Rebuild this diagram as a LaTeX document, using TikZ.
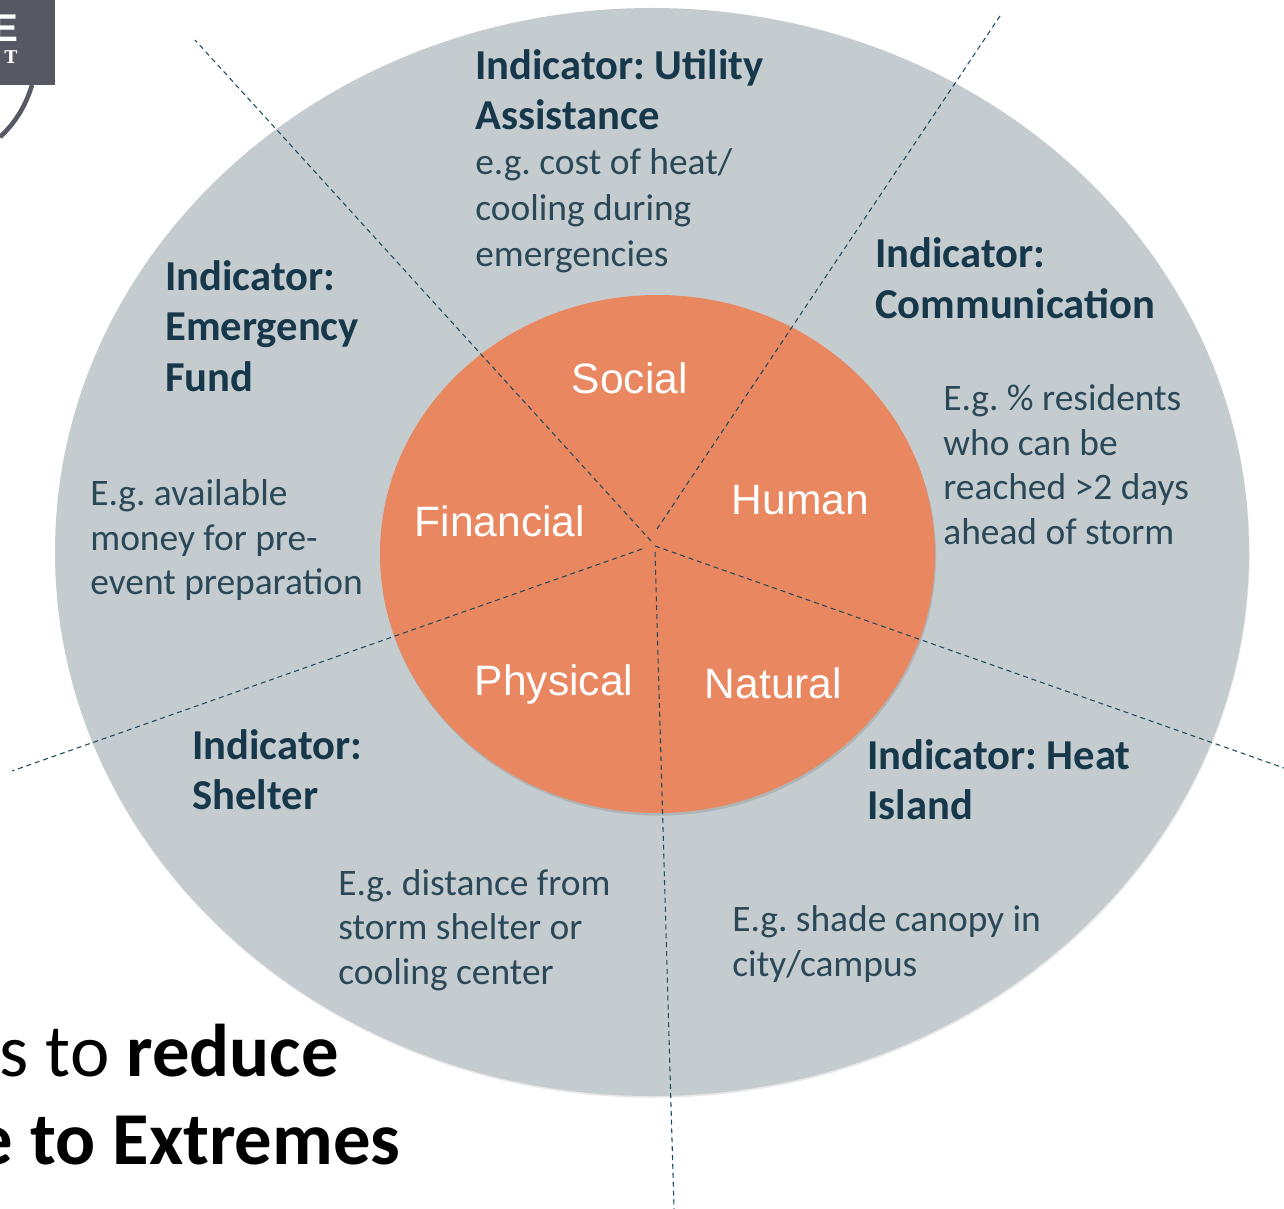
\documentclass[tikz,border=0pt]{standalone}
\usepackage{fontspec}
\setmainfont{Carlito}
\newfontfamily\labelfont{Liberation Sans}
\newfontfamily\logofont{DejaVu Serif}
\usetikzlibrary{shadows}
\definecolor{outergray}{HTML}{C4CCCF}
\definecolor{innerorange}{HTML}{E98760}
\definecolor{spokeblue}{HTML}{1F4A5E}
\definecolor{headblue}{HTML}{17384B}
\definecolor{bodyblue}{HTML}{2A4858}
\definecolor{logogray}{HTML}{565964}
\tikzset{
  indicator/.style={anchor=base west,inner sep=0pt,align=left,text=headblue,font=\frenchspacing\fontsize{24.25}{28.5}\selectfont\bfseries},
  example/.style={anchor=base west,inner sep=0pt,align=left,text=bodyblue,font=\frenchspacing\fontsize{21.3}{25.3}\selectfont},
  capital/.style={anchor=base west,inner sep=0pt,text=white,font=\fontsize{24.2}{29}\selectfont\labelfont},
  spoke/.style={spokeblue,line width=0.6pt,dash pattern=on 2.85pt off 2.2pt},
  headline/.style={anchor=base east,inner sep=0pt,text=black,font=\fontsize{42.5}{50}\selectfont}
}
\begin{document}
\begin{tikzpicture}[x=0.02cm,y=-0.02cm]
  \useasboundingbox (0,0) rectangle (1284,1209);
  \fill[outergray,drop shadow={shadow xshift=0.3pt,shadow yshift=-1pt,opacity=0.18}] (652,552) ellipse [x radius=597,y radius=544];
  \fill[innerorange,drop shadow={shadow xshift=0.6pt,shadow yshift=-1.5pt,opacity=0.3}] (657.5,554) ellipse [x radius=277.5,y radius=259];

  \coordinate (hubfinancial) at (651,541);
  \coordinate (hubhuman) at (657,529);
  \coordinate (hubnatural) at (655,546);
  \coordinate (hubphysical) at (655,552);
  \coordinate (hubshelter) at (642,549);
  \coordinate (endfinancial) at (195,40);
  \coordinate (endhuman) at (1002,13);
  \coordinate (endnatural) at (1284,768);
  \coordinate (endphysical) at (674,1209);
  \coordinate (endshelter) at (12,771);
  \draw[spoke] (hubfinancial) -- (endfinancial);
  \draw[spoke] (hubhuman) -- (endhuman);
  \draw[spoke] (hubnatural) -- (endnatural);
  \draw[spoke] (hubphysical) -- (endphysical);
  \draw[spoke] (hubshelter) -- (endshelter);

  \node[capital] (social) at (571.5,393) {Social};
  \node[capital] (human) at (731.5,514.5) {Human};
  \node[capital] (financial) at (414.5,536) {Financial};
  \node[capital] (physical) at (474.5,695.5) {Physical};
  \node[capital] (natural) at (704.5,698) {Natural};

  \node[indicator] (utility) at (475,130) {Indicator: Utility\\Assistance};
  \node[example] (utilityeg) at (475,267) {e.g. cost of heat/\\[0.9pt]cooling during\\[0.9pt]emergencies};
  \node[indicator] (communication) at (875,318) {Indicator:\\Communication};
  \node[example] (communicationeg) at (943,544) {E.g. \% residents\\who can be\\reached >2 days\\ahead of storm};
  \node[indicator] (fund) at (165,391) {Indicator:\\Emergency\\Fund};
  \node[example] (fundeg) at (90,594.5) {E.g. available\\money for pre-\\event preparation};
  \node[indicator] (shelter) at (192,809.5) {Indicator:\\Shelter};
  \node[example] (sheltereg) at (338,984) {E.g. distance from\\storm shelter or\\cooling center};
  \node[indicator] (heat) at (867,819.5) {Indicator: Heat\\Island};
  \node[example] (heateg) at (732,976) {E.g. shade canopy in\\city/campus};

  \node[headline] (reduce) at (339,1076) {s to \textbf{reduce}};
  \node[headline] (extremes) at (401,1164) {\textbf{e to Extremes}};

  \fill[logogray] (0,0) rectangle (55,85);
  \draw[logogray,line width=2.6pt] (32,85) .. controls (25,108) and (14,124) .. (0,137);
  \node[anchor=base east,inner sep=0pt,text=white,font=\fontsize{22}{26}\selectfont\labelfont\bfseries] (logobig) at (19,42) {E};
  \node[anchor=base,inner sep=0pt,text=white,font=\fontsize{10}{12}\selectfont\logofont\bfseries] (logosmall) at (11,64) {T};
\end{tikzpicture}
\end{document}
